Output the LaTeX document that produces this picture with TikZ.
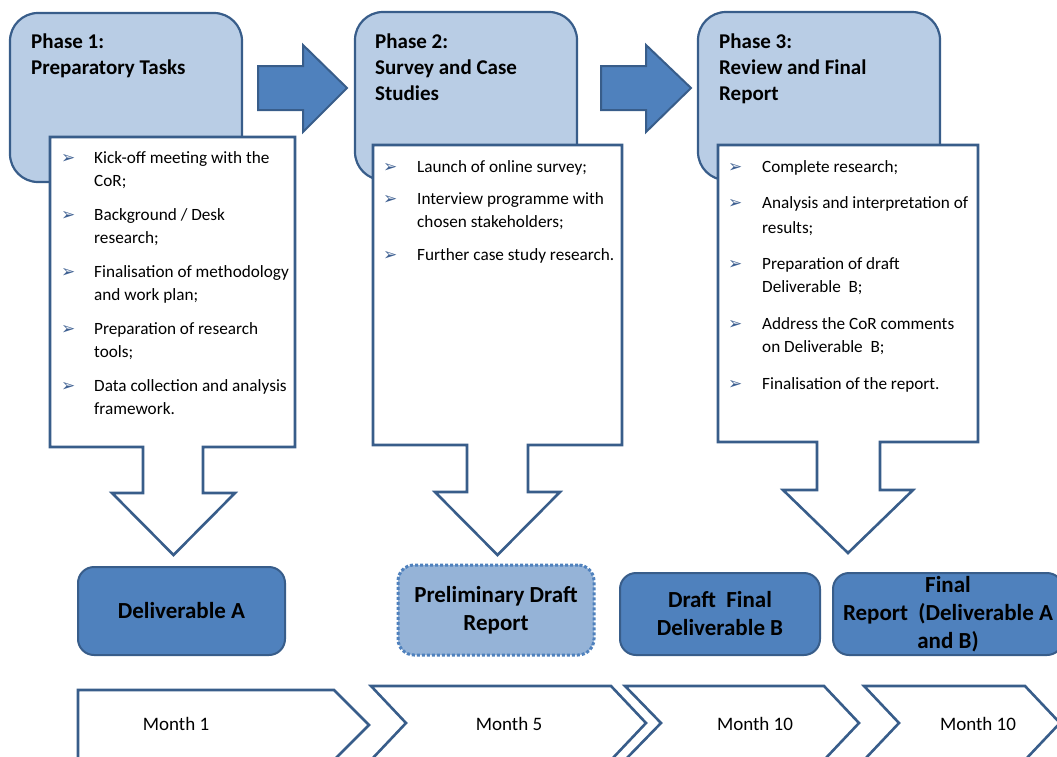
\documentclass[tikz,border=0pt]{standalone}
\usepackage{fontspec}
\setmainfont{Carlito}
\newfontfamily\dejavu{DejaVu Sans}
\definecolor{darkb}{HTML}{385D8A}
\definecolor{medb}{HTML}{4F81BD}
\definecolor{lightb}{HTML}{B9CDE5}
\definecolor{prelimb}{HTML}{95B3D7}
\definecolor{bulc}{HTML}{3D5F91}
\newcommand\tline[3]{\node[tasktext] at (#1,#2) {#3};}
\newcommand\tbul[2]{\node[bulnode] at (#1,#2) {\dejavu ➢};}
\begin{document}
\begin{tikzpicture}[x=1pt,y=-1pt,
  phasebox/.style={draw=darkb, line width=2.2pt, fill=lightb, rounded corners=28pt},
  taskshape/.style={draw=darkb, line width=2.6pt, fill=white, line join=miter},
  bigarrow/.style={draw=darkb, line width=2pt, fill=medb, line join=miter},
  chev/.style={draw=darkb, line width=2.6pt, fill=white, line join=miter},
  phasetitle/.style={anchor=base west, inner sep=0pt, font=\fontsize{21}{26}\selectfont\bfseries},
  tasktext/.style={anchor=base west, inner sep=0pt, font=\fontsize{17.2}{23}\selectfont},
  bulnode/.style={anchor=base west, inner sep=0pt, text=bulc, font=\fontsize{17}{20}\selectfont},
  deliv/.style={draw=darkb, line width=2pt, fill=medb, rounded corners=16pt, inner sep=0pt, align=center, font=\fontsize{23}{28}\selectfont\bfseries},
  prelim/.style={draw=medb, line width=3pt, dotted, fill=prelimb, rounded corners=16pt, inner sep=0pt, align=center, font=\fontsize{23}{28}\selectfont\bfseries},
  monthtext/.style={inner sep=0pt, font=\fontsize{19}{23}\selectfont}
]
\useasboundingbox (0,0) rectangle (1057,756);

% phase boxes
\draw[phasebox] (10,13) rectangle (242,182);
\draw[phasebox] (355,12) rectangle (577,180);
\draw[phasebox] (698,12) rectangle (940,180);

\node[phasetitle] (t1a) at (31,48) {Phase 1:};
\node[phasetitle] (t1b) at (31,74) {Preparatory Tasks};
\node[phasetitle] (t2a) at (375,48) {Phase 2:};
\node[phasetitle] (t2b) at (375,74) {Survey and Case};
\node[phasetitle] (t2c) at (375,100) {Studies};
\node[phasetitle] (t3a) at (719,48) {Phase 3:};
\node[phasetitle] (t3b) at (719,74) {Review and Final};
\node[phasetitle] (t3c) at (719,100) {Report};

% right arrows
\draw[bigarrow] (258,66) -- (303,66) -- (303,45) -- (347,88) -- (303,132) -- (303,110) -- (258,110) -- cycle;
\draw[bigarrow] (601,66) -- (646,66) -- (646,45) -- (691,88) -- (646,132) -- (646,110) -- (601,110) -- cycle;

% task shapes with down arrows
\draw[taskshape] (50,137) -- (295,137) -- (295,447) -- (203,447) -- (203,493) -- (235,493) -- (173.5,555) -- (112,493) -- (143,493) -- (143,447) -- (50,447) -- cycle;
\draw[taskshape] (373,145) -- (622,145) -- (622,445) -- (528,445) -- (528,492) -- (560,492) -- (497.5,555) -- (435,492) -- (467,492) -- (467,445) -- (373,445) -- cycle;
\draw[taskshape] (718,145) -- (978,145) -- (978,442) -- (880,442) -- (880,490) -- (913,490) -- (848,553) -- (783,490) -- (817,490) -- (817,442) -- (718,442) -- cycle;

% phase 1 tasks
\tbul{61}{163}\tline{94}{163}{Kick-off meeting with the}
\tline{94}{186}{CoR;}
\tbul{61}{220}\tline{94}{220}{Background / Desk}
\tline{94}{243}{research;}
\tbul{61}{277}\tline{94}{277}{Finalisation of methodology}
\tline{94}{300}{and work plan;}
\tbul{61}{334}\tline{94}{334}{Preparation of research}
\tline{94}{357}{tools;}
\tbul{61}{391}\tline{94}{391}{Data collection and analysis}
\tline{94}{414}{framework.}

% phase 2 tasks
\tbul{383}{172}\tline{417}{172}{Launch of online survey;}
\tbul{383}{204}\tline{417}{204}{Interview programme with}
\tline{417}{227}{chosen stakeholders;}
\tbul{383}{260}\tline{417}{260}{Further case study research.}

% phase 3 tasks
\tbul{728}{172}\tline{762}{172}{Complete research;}
\tbul{728}{208}\tline{762}{208}{Analysis and interpretation of}
\tline{762}{233}{results;}
\tbul{728}{269}\tline{762}{269}{Preparation of draft}
\tline{762}{292}{Deliverable\ \ B;}
\tbul{728}{329}\tline{762}{329}{Address the CoR comments}
\tline{762}{352}{on Deliverable\ \ B;}
\tbul{728}{389}\tline{762}{389}{Finalisation of the report.}

% deliverables
\node[deliv, minimum width=207pt, minimum height=88pt] (dA) at (181.5,611) {Deliverable A};
\node[prelim, minimum width=196pt, minimum height=90pt] (pdr) at (496,610) {Preliminary Draft\\Report};
\node[deliv, minimum width=200pt, minimum height=82pt] (dfb) at (720,614) {Draft\ \ Final\\Deliverable B};
\node[deliv, minimum width=230pt, minimum height=82pt] (fr) at (948,614) {Final\\Report\ \ (Deliverable A\\and B)};

% month chevrons
\draw[chev] (78,690) -- (334,690) -- (369,725) -- (334,760) -- (78,760) -- cycle;
\draw[chev] (371,686) -- (611,686) -- (646,723) -- (611,760) -- (371,760) -- (406,723) -- cycle;
\draw[chev] (625,686) -- (824,686) -- (859,723) -- (824,760) -- (625,760) -- (661,723) -- cycle;
\draw[chev] (864,686) -- (1025,686) -- (1060,723) -- (1025,760) -- (864,760) -- (899,723) -- cycle;

\node[monthtext] (m1) at (176,724) {Month 1};
\node[monthtext] (m2) at (509,724) {Month 5};
\node[monthtext] (m3) at (755,724) {Month 10};
\node[monthtext] (m4) at (978,724) {Month 10};
\end{tikzpicture}
\end{document}
